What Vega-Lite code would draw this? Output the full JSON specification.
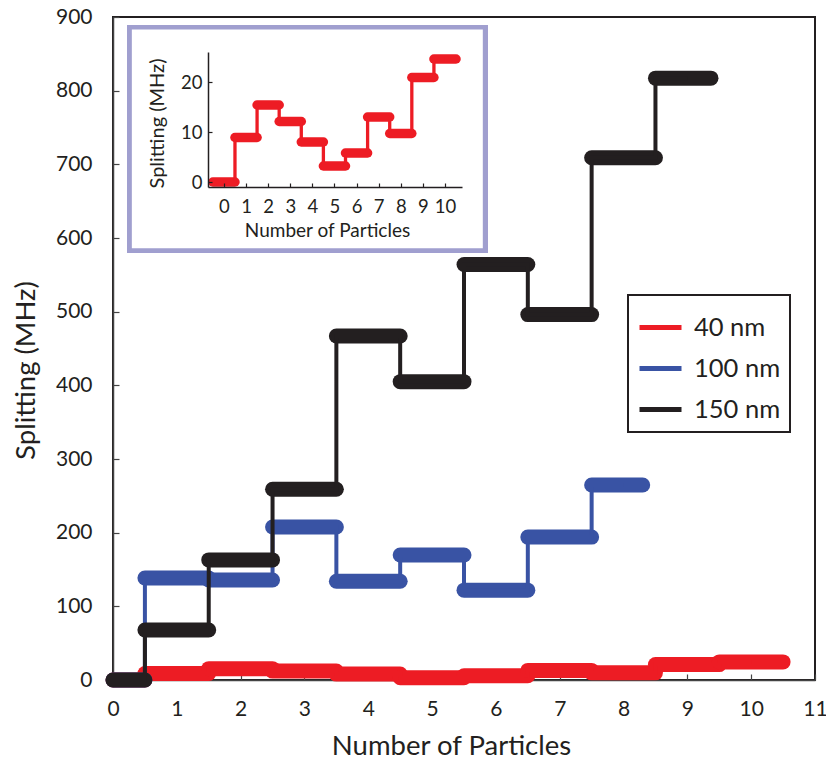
{
  "$schema": "https://vega.github.io/schema/vega-lite/v6.json",
  "width": 702,
  "height": 663,
  "autosize": "none",
  "padding": {"left": 113, "top": 17, "right": 11, "bottom": 80},
  "background": "white",
  "config": {
    "font": "Lato",
    "view": {"stroke": "#231f20", "strokeWidth": 2},
    "axis": {"grid": false, "domainColor": "#444", "domainWidth": 1.5, "tickColor": "#444", "tickWidth": 1.2, "labelColor": "#231f20", "titleColor": "#231f20", "titleFontWeight": "normal", "labelFont": "Lato", "titleFont": "Lato"},
    "axisX": {"tickSize": -6, "labelFontSize": 21, "labelPadding": 24, "titleFontSize": 27.5, "titleX": 338, "titleY": 74, "titleBaseline": "alphabetic", "labelFlush": false},
    "axisY": {"tickSize": -6, "labelFontSize": 21, "labelPadding": 27, "titleFontSize": 27.5, "titleX": -87, "titleY": 353, "titleBaseline": "middle", "titleAlign": "center", "titleAngle": -90, "labelFlush": false},
    "legend": {"orient": "none", "legendX": 515, "legendY": 278, "symbolType": "stroke", "symbolStrokeWidth": 5, "symbolSize": 1764, "labelFontSize": 25.5, "labelOffset": 10, "padding": 9, "strokeColor": "#231f20", "rowPadding": 4, "labelColor": "#231f20", "labelFont": "Lato"}
  },
  "datasets": {
    "pts": [
      {"series": "40 nm", "n": 0, "v": 0},
      {"series": "40 nm", "n": 1, "v": 8.9},
      {"series": "40 nm", "n": 2, "v": 15.4},
      {"series": "40 nm", "n": 3, "v": 12.1},
      {"series": "40 nm", "n": 4, "v": 8.0},
      {"series": "40 nm", "n": 5, "v": 3.2},
      {"series": "40 nm", "n": 6, "v": 5.8},
      {"series": "40 nm", "n": 7, "v": 13.0},
      {"series": "40 nm", "n": 8, "v": 9.7},
      {"series": "40 nm", "n": 9, "v": 20.9},
      {"series": "40 nm", "n": 10, "v": 24.6},
      {"series": "100 nm", "n": 0, "v": 0},
      {"series": "100 nm", "n": 1, "v": 138.5},
      {"series": "100 nm", "n": 2, "v": 135.7},
      {"series": "100 nm", "n": 3, "v": 207.7},
      {"series": "100 nm", "n": 4, "v": 134},
      {"series": "100 nm", "n": 5, "v": 169.7},
      {"series": "100 nm", "n": 6, "v": 122},
      {"series": "100 nm", "n": 7, "v": 194},
      {"series": "100 nm", "n": 8, "v": 264.7, "end": 8.3},
      {"series": "150 nm", "n": 0, "v": 0},
      {"series": "150 nm", "n": 1, "v": 67.9},
      {"series": "150 nm", "n": 2, "v": 163},
      {"series": "150 nm", "n": 3, "v": 259},
      {"series": "150 nm", "n": 4, "v": 467},
      {"series": "150 nm", "n": 5, "v": 405},
      {"series": "150 nm", "n": 6, "v": 564},
      {"series": "150 nm", "n": 7, "v": 496},
      {"series": "150 nm", "n": 8, "v": 709},
      {"series": "150 nm", "n": 9, "v": 817, "end": 9.37}
    ]
  },
  "data": {"name": "pts"},
  "resolve": {"scale": {"x": "independent", "y": "independent"}},
  "layer": [
    {
      "encoding": {
        "color": {
          "field": "series", "type": "nominal",
          "scale": {"domain": ["40 nm", "100 nm", "150 nm"], "range": ["#ed1c24", "#3953a4", "#231f20"]},
          "legend": {"title": null, "encode": {"legend": {"update": {"strokeWidth": {"value": 2}}}}}
        }
      },
      "layer": [
        {
          "mark": {"type": "rect", "stroke": "#a09fcf", "strokeWidth": 4.5},
          "encoding": {
            "color": {"value": "white"},
            "x": {"datum": 0.26, "type": "quantitative", "scale": {"domain": [0, 11], "nice": false, "zero": false}, "axis": {"title": "Number of Particles", "values": [0,1,2,3,4,5,6,7,8,9,10,11]}},
            "x2": {"datum": 5.83},
            "y": {"datum": 583, "type": "quantitative", "scale": {"domain": [0, 900], "nice": false}, "axis": {"title": "Splitting (MHz)", "values": [0,100,200,300,400,500,600,700,800,900]}},
            "y2": {"datum": 886}
          }
        },
        {
          "transform": [{"filter": "datum.series === '40 nm'"}, {"calculate": "max(0, datum.n - 0.5)", "as": "x0"}, {"calculate": "datum.end != null ? datum.end : datum.n + 0.5", "as": "x1"}],
          "mark": {"type": "rule", "strokeWidth": 15, "strokeCap": "round"},
          "encoding": {
            "x": {"field": "x0", "type": "quantitative", "scale": {"domain": [0, 11], "nice": false, "zero": false}, "axis": {"title": "Number of Particles", "values": [0,1,2,3,4,5,6,7,8,9,10,11]}},
            "x2": {"field": "x1"},
            "y": {"field": "v", "type": "quantitative", "scale": {"domain": [0, 900], "nice": false}, "axis": {"title": "Splitting (MHz)", "values": [0,100,200,300,400,500,600,700,800,900]}}
          }
        },
        {
          "transform": [{"filter": "datum.series === '40 nm'"}],
          "mark": {"type": "line", "interpolate": "step", "strokeWidth": 4},
          "encoding": {
            "x": {"field": "n", "type": "quantitative", "scale": {"domain": [0, 11], "nice": false, "zero": false}, "axis": {"title": "Number of Particles", "values": [0,1,2,3,4,5,6,7,8,9,10,11]}},
            "y": {"field": "v", "type": "quantitative", "scale": {"domain": [0, 900], "nice": false}, "axis": {"title": "Splitting (MHz)", "values": [0,100,200,300,400,500,600,700,800,900]}}
          }
        },
        {
          "transform": [{"filter": "datum.series === '100 nm'"}, {"calculate": "max(0, datum.n - 0.5)", "as": "x0"}, {"calculate": "datum.end != null ? datum.end : datum.n + 0.5", "as": "x1"}],
          "mark": {"type": "rule", "strokeWidth": 15, "strokeCap": "round"},
          "encoding": {
            "x": {"field": "x0", "type": "quantitative", "scale": {"domain": [0, 11], "nice": false, "zero": false}, "axis": {"title": "Number of Particles", "values": [0,1,2,3,4,5,6,7,8,9,10,11]}},
            "x2": {"field": "x1"},
            "y": {"field": "v", "type": "quantitative", "scale": {"domain": [0, 900], "nice": false}, "axis": {"title": "Splitting (MHz)", "values": [0,100,200,300,400,500,600,700,800,900]}}
          }
        },
        {
          "transform": [{"filter": "datum.series === '100 nm'"}],
          "mark": {"type": "line", "interpolate": "step", "strokeWidth": 4},
          "encoding": {
            "x": {"field": "n", "type": "quantitative", "scale": {"domain": [0, 11], "nice": false, "zero": false}, "axis": {"title": "Number of Particles", "values": [0,1,2,3,4,5,6,7,8,9,10,11]}},
            "y": {"field": "v", "type": "quantitative", "scale": {"domain": [0, 900], "nice": false}, "axis": {"title": "Splitting (MHz)", "values": [0,100,200,300,400,500,600,700,800,900]}}
          }
        },
        {
          "transform": [{"filter": "datum.series === '150 nm'"}, {"calculate": "max(0, datum.n - 0.5)", "as": "x0"}, {"calculate": "datum.end != null ? datum.end : datum.n + 0.5", "as": "x1"}],
          "mark": {"type": "rule", "strokeWidth": 15, "strokeCap": "round"},
          "encoding": {
            "x": {"field": "x0", "type": "quantitative", "scale": {"domain": [0, 11], "nice": false, "zero": false}, "axis": {"title": "Number of Particles", "values": [0,1,2,3,4,5,6,7,8,9,10,11]}},
            "x2": {"field": "x1"},
            "y": {"field": "v", "type": "quantitative", "scale": {"domain": [0, 900], "nice": false}, "axis": {"title": "Splitting (MHz)", "values": [0,100,200,300,400,500,600,700,800,900]}}
          }
        },
        {
          "transform": [{"filter": "datum.series === '150 nm'"}],
          "mark": {"type": "line", "interpolate": "step", "strokeWidth": 4},
          "encoding": {
            "x": {"field": "n", "type": "quantitative", "scale": {"domain": [0, 11], "nice": false, "zero": false}, "axis": {"title": "Number of Particles", "values": [0,1,2,3,4,5,6,7,8,9,10,11]}},
            "y": {"field": "v", "type": "quantitative", "scale": {"domain": [0, 900], "nice": false}, "axis": {"title": "Splitting (MHz)", "values": [0,100,200,300,400,500,600,700,800,900]}}
          }
        }
      ]
    },
    {
      "transform": [{"filter": "datum.series === '40 nm'"}],
      "layer": [
        {
          "transform": [{"calculate": "datum.n - 0.5", "as": "x0"}, {"calculate": "datum.n + 0.5", "as": "x1"}],
          "mark": {"type": "rule", "strokeWidth": 9.5, "strokeCap": "round", "color": "#ed1c24"},
          "encoding": {
            "x": {"field": "x0", "type": "quantitative", "scale": {"domain": [-0.72, 10.77], "range": [95, 349], "nice": false, "zero": false},
              "axis": {"orient": "bottom", "offset": -493, "zindex": 1, "title": "Number of Particles", "values": [0,1,2,3,4,5,6,7,8,9,10], "tickSize": -4, "labelFontSize": 18.5, "labelPadding": 14, "titleFontSize": 19, "titleX": 214, "titleY": 49, "titleBaseline": "alphabetic", "domainColor": "#231f20", "tickColor": "#231f20"}},
            "x2": {"field": "x1"},
            "y": {"field": "v", "type": "quantitative", "scale": {"domain": [-1, 26], "range": [170, 35], "nice": false, "zero": false},
              "axis": {"orient": "left", "offset": -95, "zindex": 1, "title": "Splitting (MHz)", "values": [0, 10, 20], "tickSize": -4, "labelFontSize": 18.5, "labelPadding": 10, "titleFontSize": 20, "titleX": -51, "titleY": 106, "titleBaseline": "middle", "titleAlign": "center", "titleAngle": -90, "domainColor": "#231f20", "tickColor": "#231f20"}}
          }
        },
        {
          "mark": {"type": "line", "interpolate": "step", "strokeWidth": 3.3, "color": "#ed1c24"},
          "encoding": {
            "x": {"field": "n", "type": "quantitative", "scale": {"domain": [-0.72, 10.77], "range": [95, 349], "nice": false, "zero": false},
              "axis": {"orient": "bottom", "offset": -493, "zindex": 1, "title": "Number of Particles", "values": [0,1,2,3,4,5,6,7,8,9,10], "tickSize": -4, "labelFontSize": 18.5, "labelPadding": 14, "titleFontSize": 19, "titleX": 214, "titleY": 49, "titleBaseline": "alphabetic", "domainColor": "#231f20", "tickColor": "#231f20"}},
            "y": {"field": "v", "type": "quantitative", "scale": {"domain": [-1, 26], "range": [170, 35], "nice": false, "zero": false},
              "axis": {"orient": "left", "offset": -95, "zindex": 1, "title": "Splitting (MHz)", "values": [0, 10, 20], "tickSize": -4, "labelFontSize": 18.5, "labelPadding": 10, "titleFontSize": 20, "titleX": -51, "titleY": 106, "titleBaseline": "middle", "titleAlign": "center", "titleAngle": -90, "domainColor": "#231f20", "tickColor": "#231f20"}}
          }
        }
      ]
    }
  ]
}
